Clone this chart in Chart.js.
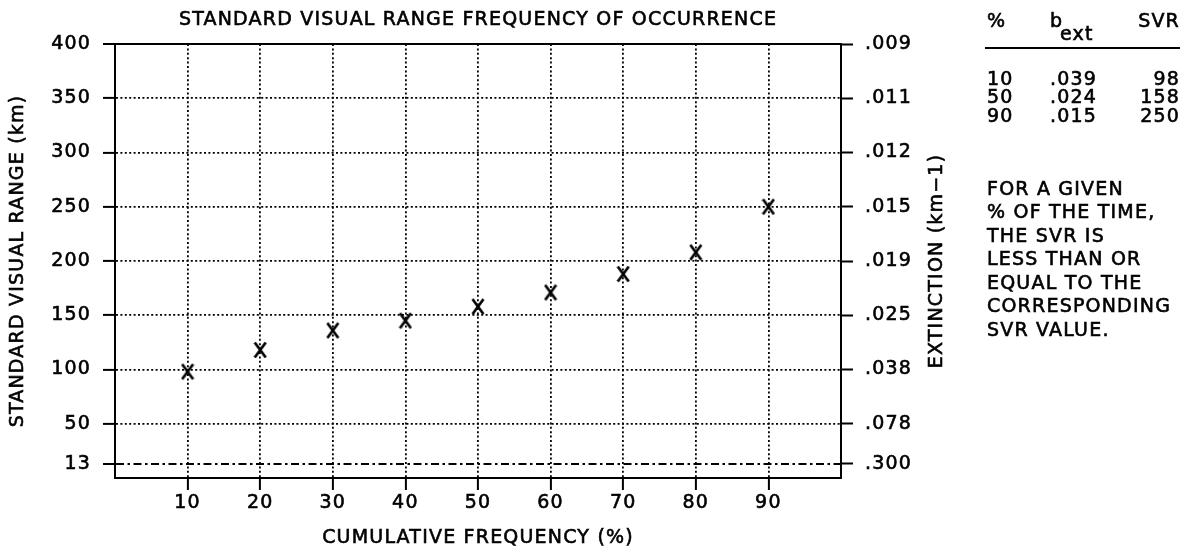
<!DOCTYPE html>
<html>
<head>
<meta charset="utf-8">
<script src="https://cdn.jsdelivr.net/npm/chart.js@4.4.0/dist/chart.umd.min.js"></script>
<style>
  html, body { margin: 0; padding: 0; background: #fff; }
  #wrap { width: 1183px; height: 556px; }
</style>
</head>
<body>
<div id="wrap"><canvas id="svr-chart" width="1183" height="556"></canvas></div>
<script>
// values
const frequencies = [10, 20, 30, 40, 50, 60, 70, 80, 90];
const svrValues = [98, 118, 136, 145, 158, 171, 188, 208, 250];
const freqTicks = [10, 20, 30, 40, 50, 60, 70, 80, 90];
const svrTicks = [13, 50, 100, 150, 200, 250, 300, 350, 400];
const extinctionLabels = ['.300', '.078', '.038', '.025', '.019', '.015', '.012', '.011', '.009'];

// side table + note
const tableHeader = ['%', 'b', 'ext', 'SVR'];
const tableRows = [['10', '.039', '98'], ['50', '.024', '158'], ['90', '.015', '250']];
const noteLines = ['FOR A GIVEN', '% OF THE TIME,', 'THE SVR IS', 'LESS THAN OR', 'EQUAL TO THE', 'CORRESPONDING', 'SVR VALUE.'];

const FONT = 'DejaVu Sans';
const SPACING = '1.2px';
const STROKE = 0.6;
const font = { family: FONT, size: 19 };

const gridDash = (ctx) => {
  if (!ctx.tick) return [];
  if (ctx.tick.value === 13) return [8, 3.5, 2.5, 3.5];
  if (ctx.tick.value === 400) return [];
  return [2, 2.4];
};

// tall X marker like the plotter one
const xMark = document.createElement('canvas');
xMark.width = 14;
xMark.height = 18;
(() => {
  const c = xMark.getContext('2d');
  c.strokeStyle = '#000';
  c.lineWidth = 2.7;
  c.beginPath();
  c.moveTo(1.5, 1.5); c.lineTo(12.5, 16.5);
  c.moveTo(12.5, 1.5); c.lineTo(1.5, 16.5);
  c.stroke();
})();

function text(ctx, str, x, y) {
  ctx.fillText(str, x, y);
  ctx.strokeText(str, x, y);
}

const extras = {
  id: 'extras',
  beforeDraw(chart) {
    chart.ctx.letterSpacing = SPACING;
  },
  afterDraw(chart) {
    const ctx = chart.ctx;
    const area = chart.chartArea;
    const midY = (area.top + area.bottom) / 2;
    ctx.save();
    ctx.fillStyle = '#000';
    ctx.strokeStyle = '#000';
    ctx.lineWidth = STROKE;
    ctx.font = '19px "' + FONT + '"';
    ctx.letterSpacing = SPACING;
    ctx.textBaseline = 'middle';

    ctx.textAlign = 'center';
    text(ctx, 'STANDARD VISUAL RANGE FREQUENCY OF OCCURRENCE', (area.left + area.right) / 2, 20);
    text(ctx, 'CUMULATIVE FREQUENCY (%)', (area.left + area.right) / 2, 538);

    ctx.save();
    ctx.translate(18, midY);
    ctx.rotate(-Math.PI / 2);
    text(ctx, 'STANDARD VISUAL RANGE (km)', 0, 0);
    ctx.restore();

    ctx.save();
    ctx.translate(937, midY);
    ctx.rotate(-Math.PI / 2);
    text(ctx, 'EXTINCTION (km\u22121)', 0, 0);
    ctx.restore();

    // table
    ctx.textAlign = 'left';
    text(ctx, tableHeader[0], 987, 22);
    text(ctx, tableHeader[1], 1050, 22);
    text(ctx, tableHeader[2], 1060, 35);
    ctx.textAlign = 'right';
    text(ctx, tableHeader[3], 1180, 22);

    ctx.lineWidth = 2;
    ctx.beginPath();
    ctx.moveTo(985, 48);
    ctx.lineTo(1180, 48);
    ctx.stroke();
    ctx.lineWidth = STROKE;

    tableRows.forEach((row, i) => {
      const y = 80 + i * 18.5;
      ctx.textAlign = 'left';
      text(ctx, row[0], 987, y);
      text(ctx, row[1], 1050, y);
      ctx.textAlign = 'right';
      text(ctx, row[2], 1180, y);
    });

    ctx.textAlign = 'left';
    noteLines.forEach((line, i) => {
      text(ctx, line, 987, 190 + i * 23.5);
    });
    ctx.restore();
  }
};

const tickOpts = (extra) => Object.assign({
  font: font,
  color: '#000',
  textStrokeColor: '#000',
  textStrokeWidth: STROKE
}, extra);

const chartCtx = document.getElementById('svr-chart').getContext('2d');

new Chart(chartCtx, {
  type: 'scatter',
  data: {
    datasets: [{
      label: 'SVR',
      data: frequencies.map((f, i) => ({ x: f, y: svrValues[i] })),
      pointStyle: xMark,
      borderColor: '#000',
      backgroundColor: '#000',
      showLine: false
    }]
  },
  options: {
    responsive: false,
    animation: false,
    layout: { padding: { top: 44, left: 0, right: 0, bottom: 0 } },
    scales: {
      x: {
        type: 'linear',
        min: 0,
        max: 100,
        afterBuildTicks: (s) => { s.ticks = freqTicks.map(v => ({ value: v })); },
        afterFit: (s) => { s.height = 78; },
        ticks: tickOpts({ padding: 2, maxRotation: 0 }),
        grid: {
          color: '#000',
          lineWidth: 1.8,
          tickLength: 12,
          tickWidth: 2,
          tickColor: '#000'
        },
        border: { display: true, color: '#000', width: 2, dash: gridDash }
      },
      y: {
        type: 'linear',
        position: 'left',
        min: 0,
        max: 400,
        afterBuildTicks: (s) => { s.ticks = svrTicks.map(v => ({ value: v })); },
        afterFit: (s) => { s.width = 115; },
        ticks: tickOpts({ padding: 12 }),
        grid: {
          color: '#000',
          lineWidth: (c) => (c.tick && (c.tick.value === 400 || c.tick.value === 13) ? 2 : 1.8),
          tickLength: 12,
          tickWidth: 2,
          tickColor: '#000'
        },
        border: { display: true, color: '#000', width: 2, dash: gridDash }
      },
      y2: {
        type: 'linear',
        position: 'right',
        min: 0,
        max: 400,
        afterBuildTicks: (s) => { s.ticks = svrTicks.map(v => ({ value: v })); },
        afterFit: (s) => { s.width = 342; },
        ticks: tickOpts({
          padding: 12,
          callback: (v) => extinctionLabels[svrTicks.indexOf(v)]
        }),
        grid: {
          drawOnChartArea: false,
          color: '#000',
          tickLength: 12,
          tickWidth: 2,
          tickColor: '#000'
        },
        border: { display: true, color: '#000', width: 2 }
      }
    },
    plugins: {
      legend: { display: false },
      tooltip: { enabled: false }
    }
  },
  plugins: [extras]
});
</script>
</body>
</html>
